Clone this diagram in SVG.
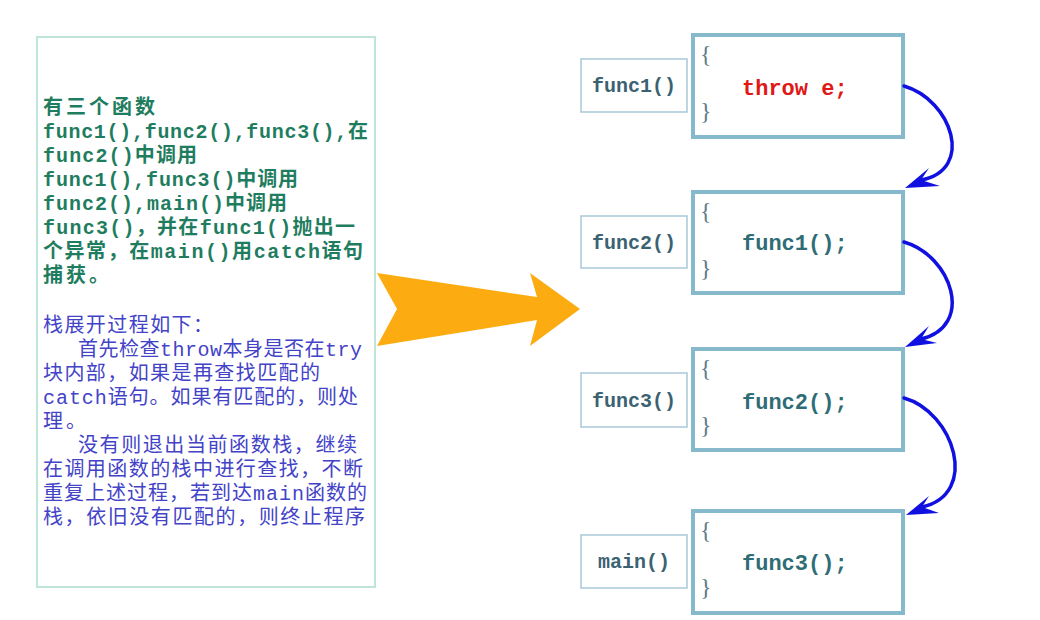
<svg xmlns="http://www.w3.org/2000/svg" width="1040" height="620" viewBox="0 0 1040 620">
<style>
.panel{fill:#ffffff;stroke:#bfe5da;stroke-width:2}
.g{font-family:"Liberation Mono","Noto Sans CJK SC",monospace;font-size:20px;font-weight:bold;fill:#1f7d5f}
.b{font-family:"Liberation Mono","Noto Sans CJK SC",monospace;font-size:20px;fill:#4343c8}
.lbl{fill:#ffffff;stroke:#a9c9d8;stroke-width:1.5}
.lbltxt{font-family:"Liberation Mono",monospace;font-size:20px;font-weight:bold;fill:#3a6272;text-anchor:middle}
.code{fill:#ffffff;stroke:#86b9cc;stroke-width:4}
.brace{font-family:"Liberation Serif",serif;font-size:24px;fill:#5d7c88}
.stmt{font-family:"Liberation Mono",monospace;font-size:22px;font-weight:bold;fill:#2f6d76}
.red{fill:#e01818}
.conn{fill:none;stroke:#1010e0;stroke-width:3.5;stroke-linecap:round}
.head{fill:#1010e0}
</style>
<g id="text-panel">
<rect class="panel" x="37" y="37" width="338" height="550"/>
<text class="g" x="43" y="114" textLength="112">有三个函数</text>
<text class="g" x="43" y="138" textLength="325">func1(),func2(),func3(),在</text>
<text class="g" x="43" y="162" textLength="154">func2()中调用</text>
<text class="g" x="43" y="186" textLength="255">func1(),func3()中调用</text>
<text class="g" x="43" y="210" textLength="244">func2(),main()中调用</text>
<text class="g" x="43" y="234" textLength="312">func3()，并在func1()抛出一</text>
<text class="g" x="43" y="258" textLength="320">个异常，在main()用catch语句</text>
<text class="g" x="43" y="282" textLength="66">捕获。</text>
<text class="b" x="43" y="332" textLength="170">栈展开过程如下：</text>
<text class="b" x="78" y="356" textLength="284">首先检查throw本身是否在try</text>
<text class="b" x="43" y="380" textLength="277">块内部，如果是再查找匹配的</text>
<text class="b" x="43" y="404" textLength="315">catch语句。如果有匹配的，则处</text>
<text class="b" x="43" y="428" textLength="43">理。</text>
<text class="b" x="78" y="452" textLength="279">没有则退出当前函数栈，继续</text>
<text class="b" x="43" y="476" textLength="320">在调用函数的栈中进行查找，不断</text>
<text class="b" x="43" y="500" textLength="324">重复上述过程，若到达main函数的</text>
<text class="b" x="43" y="524" textLength="322">栈，依旧没有匹配的，则终止程序</text>
</g>
<g id="big-arrow">
<polygon points="377,273 537,297 530,273 580,309 530,346 537,320 377,346 397,309" fill="#fcac10"/>
</g>
<g id="frame-func1">
<rect class="lbl" x="581" y="59" width="106" height="53"/>
<text class="lbltxt" x="634" y="92">func1()</text>
<rect class="code" x="693" y="35" width="210" height="102"/>
<text class="brace" x="700" y="62">{</text>
<text class="brace" x="700" y="119">}</text>
<text class="stmt red" x="742" y="95">throw e;</text>
</g>
<g id="frame-func2">
<rect class="lbl" x="581" y="216" width="106" height="52"/>
<text class="lbltxt" x="634" y="249">func2()</text>
<rect class="code" x="693" y="192" width="210" height="101"/>
<text class="brace" x="700" y="219">{</text>
<text class="brace" x="700" y="276">}</text>
<text class="stmt" x="742" y="250">func1();</text>
</g>
<g id="frame-func3">
<rect class="lbl" x="581" y="373" width="106" height="54"/>
<text class="lbltxt" x="634" y="407">func3()</text>
<rect class="code" x="693" y="349" width="210" height="101"/>
<text class="brace" x="700" y="376">{</text>
<text class="brace" x="700" y="433">}</text>
<text class="stmt" x="742" y="409">func2();</text>
</g>
<g id="frame-main">
<rect class="lbl" x="581" y="535" width="106" height="53"/>
<text class="lbltxt" x="634" y="568">main()</text>
<rect class="code" x="693" y="511" width="210" height="102"/>
<text class="brace" x="700" y="538">{</text>
<text class="brace" x="700" y="595">}</text>
<text class="stmt" x="742" y="570">func3();</text>
</g>
<g id="connectors">
<path class="conn" d="M904,86 C952,100 975,170 921,180"/>
<polygon class="head" points="905,188 929,168 921,180 940,186"/>
<path class="conn" d="M904,242 C952,256 975,326 921,339"/>
<polygon class="head" points="905,347 929,326 921,339 937,343"/>
<path class="conn" d="M904,398 C954,412 980,494 922,507"/>
<polygon class="head" points="906,515 929,496 922,507 939,513"/>
</g>
</svg>
